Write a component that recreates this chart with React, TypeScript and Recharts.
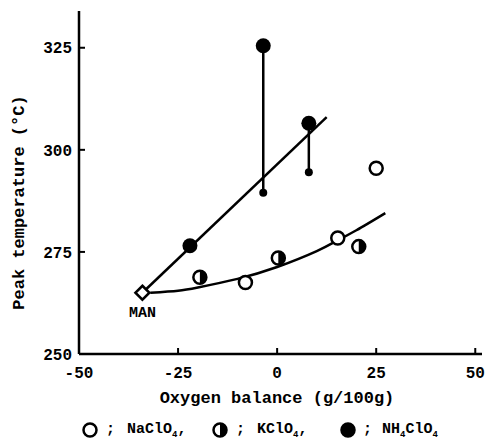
import React from "react";
import { ComposedChart, Line, Scatter, XAxis, YAxis, Label, LabelList } from "recharts";

// axis ticks
const xTicks = [-50, -25, 0, 25, 50];
const yTicks = [250, 275, 300, 325];

// measured points
const manPoint = [{ x: -34, y: 265, name: "MAN" }];
const naClO4Points = [
  { x: -8, y: 267.5 },
  { x: 15.3, y: 278.4 },
  { x: 25, y: 295.5 },
];
const kClO4Points = [
  { x: -19.5, y: 268.8 },
  { x: 0.3, y: 273.5 },
  { x: 20.6, y: 276.3 },
];
const nh4ClO4Points = [
  { x: -22, y: 276.5 },
  { x: -3.5, y: 325.5 },
  { x: 8, y: 306.5 },
];
const nh4ClO4Low = [
  { x: -3.5, y: 289.5 },
  { x: 8, y: 294.5 },
];

// vertical ranges for NH4ClO4
const rangeA = [
  { x: -3.5, y: 325.5 },
  { x: -3.5, y: 289.5 },
];
const rangeB = [
  { x: 8, y: 306.5 },
  { x: 8, y: 294.5 },
];

// fitted lines
const straightFit = [
  { x: -34, y: 265 },
  { x: 12.5, y: 308 },
];
const curveFit = [
  { x: -32, y: 265 },
  { x: -25, y: 265.5 },
  { x: -20, y: 266.3 },
  { x: -10, y: 268.4 },
  { x: 0, y: 271.3 },
  { x: 10, y: 275.2 },
  { x: 15, y: 277.7 },
  { x: 20, y: 280.3 },
  { x: 27.3, y: 284.5 },
];

const FONT = "'Liberation Mono', 'DejaVu Sans Mono', monospace";

const XTick = (props: any) => {
  const { x, y, payload } = props;
  return (
    <g>
      {payload.value !== -50 && (
        <line x1={x} x2={x} y1={y - 13} y2={y - 19} stroke="#000" strokeWidth={2} />
      )}
      <text x={x} y={y} dy="0.71em" textAnchor="middle" fontFamily={FONT} fontWeight="bold" fontSize={16} fill="#000">
        {payload.value}
      </text>
    </g>
  );
};

const YTick = (props: any) => {
  const { x, y, payload } = props;
  return (
    <g>
      {payload.value !== 250 && (
        <line x1={x + 7} x2={x + 13} y1={y} y2={y} stroke="#000" strokeWidth={2} />
      )}
      <text x={x} y={y} dy="0.355em" textAnchor="end" fontFamily={FONT} fontWeight="bold" fontSize={16} fill="#000">
        {payload.value}
      </text>
    </g>
  );
};

const OpenCircle = ({ cx, cy }: any) => (
  <circle cx={cx} cy={cy} r={6.5} fill="#fff" stroke="#000" strokeWidth={2.5} />
);

const HalfCircle = ({ cx, cy }: any) => (
  <g>
    <circle cx={cx} cy={cy} r={6.5} fill="#fff" stroke="#000" strokeWidth={2.5} />
    <path d={`M${cx},${cy - 6.5} A6.5,6.5 0 0 1 ${cx},${cy + 6.5} Z`} fill="#000" />
  </g>
);

const BigDot = ({ cx, cy }: any) => <circle cx={cx} cy={cy} r={7.5} fill="#000" />;
const SmallDot = ({ cx, cy }: any) => <circle cx={cx} cy={cy} r={4} fill="#000" />;

const Diamond = ({ cx, cy }: any) => (
  <path
    d={`M${cx},${cy - 7} L${cx + 7},${cy} L${cx},${cy + 7} L${cx - 7},${cy} Z`}
    fill="#fff"
    stroke="#000"
    strokeWidth={2.5}
  />
);

const ManLabel = (p: any) => (
  <text
    x={p.x + p.width / 2}
    y={p.y + p.height / 2 + 19}
    dy="0.355em"
    textAnchor="middle"
    fontFamily={FONT}
    fontWeight="bold"
    fontSize={15}
    fill="#000"
  >
    {p.value}
  </text>
);

const YAxisTitle = (p: any) => {
  const vb = p.viewBox;
  const cx = vb.x + 10;
  const cy = vb.y + vb.height / 2 + 20;
  return (
    <text x={cx} y={cy} transform={`rotate(-90 ${cx} ${cy})`} textAnchor="middle" dominantBaseline="central"
      fontFamily={FONT} fontWeight="bold" fontSize={17} fill="#000">
      Peak temperature (°C)
    </text>
  );
};

const XAxisTitle = (p: any) => {
  const vb = p.viewBox;
  return (
    <text x={277} y={vb.y + 44} textAnchor="middle" dominantBaseline="central"
      fontFamily={FONT} fontWeight="bold" fontSize={17} fill="#000">
      Oxygen balance (g/100g)
    </text>
  );
};

const legendText: React.CSSProperties = {
  position: "absolute",
  top: 420,
  fontFamily: FONT,
  fontWeight: "bold",
  fontSize: 15,
  lineHeight: "20px",
  whiteSpace: "nowrap",
};

const LegendIcon = ({ left, kind }: { left: number; kind: string }) => (
  <svg style={{ position: "absolute", left: left - 9, top: 421 }} width={18} height={18}>
    <circle cx={9} cy={9} r={6.5} fill={kind === "full" ? "#000" : "#fff"} stroke="#000" strokeWidth={2.5} />
    {kind === "half" && <path d="M9,2.5 A6.5,6.5 0 0 1 9,15.5 Z" fill="#000" />}
  </svg>
);

const App = () => {
  return (
    <div style={{ position: "absolute", left: 0, top: 0, width: 487, height: 440, background: "#fff" }}>
      <ComposedChart width={487} height={440} margin={{ top: 11, right: 5, left: 9, bottom: 46 }}>
        <XAxis
          type="number"
          dataKey="x"
          domain={[-50, 51.7]}
          ticks={xTicks}
          allowDataOverflow
          height={40}
          tickSize={0}
          tickMargin={13}
          tick={<XTick />}
          axisLine={{ stroke: "#000", strokeWidth: 2.5 }}
        >
          <Label content={<XAxisTitle />} />
        </XAxis>
        <YAxis
          type="number"
          dataKey="y"
          domain={[250, 334]}
          ticks={yTicks}
          allowDataOverflow
          width={70}
          tickSize={0}
          tickMargin={7}
          tick={<YTick />}
          axisLine={{ stroke: "#000", strokeWidth: 2.5 }}
        >
          <Label content={<YAxisTitle />} />
        </YAxis>
        <Line data={straightFit} dataKey="y" type="linear" stroke="#000" strokeWidth={2.5} dot={false} activeDot={false} isAnimationActive={false} />
        <Line data={curveFit} dataKey="y" type="natural" stroke="#000" strokeWidth={2.5} dot={false} activeDot={false} isAnimationActive={false} />
        <Line data={rangeA} dataKey="y" type="linear" stroke="#000" strokeWidth={2.5} dot={false} activeDot={false} isAnimationActive={false} />
        <Line data={rangeB} dataKey="y" type="linear" stroke="#000" strokeWidth={2.5} dot={false} activeDot={false} isAnimationActive={false} />
        <Scatter data={nh4ClO4Low} dataKey="y" shape={<SmallDot />} isAnimationActive={false} />
        <Scatter data={naClO4Points} dataKey="y" shape={<OpenCircle />} isAnimationActive={false} />
        <Scatter data={kClO4Points} dataKey="y" shape={<HalfCircle />} isAnimationActive={false} />
        <Scatter data={nh4ClO4Points} dataKey="y" shape={<BigDot />} isAnimationActive={false} />
        <Scatter data={manPoint} dataKey="y" shape={<Diamond />} isAnimationActive={false}>
          <LabelList dataKey="name" content={<ManLabel />} />
        </Scatter>
      </ComposedChart>
      <LegendIcon left={90} kind="open" />
      <span style={{ ...legendText, left: 106 }}>;</span>
      <span style={{ ...legendText, left: 127 }}>NaClO<sub style={{ fontSize: 9 }}>4</sub>,</span>
      <LegendIcon left={220} kind="half" />
      <span style={{ ...legendText, left: 236 }}>;</span>
      <span style={{ ...legendText, left: 257 }}>KClO<sub style={{ fontSize: 9 }}>4</sub>,</span>
      <LegendIcon left={348} kind="full" />
      <span style={{ ...legendText, left: 363 }}>;</span>
      <span style={{ ...legendText, left: 382 }}>NH<sub style={{ fontSize: 9 }}>4</sub>ClO<sub style={{ fontSize: 9 }}>4</sub></span>
    </div>
  );
};

export default App;
